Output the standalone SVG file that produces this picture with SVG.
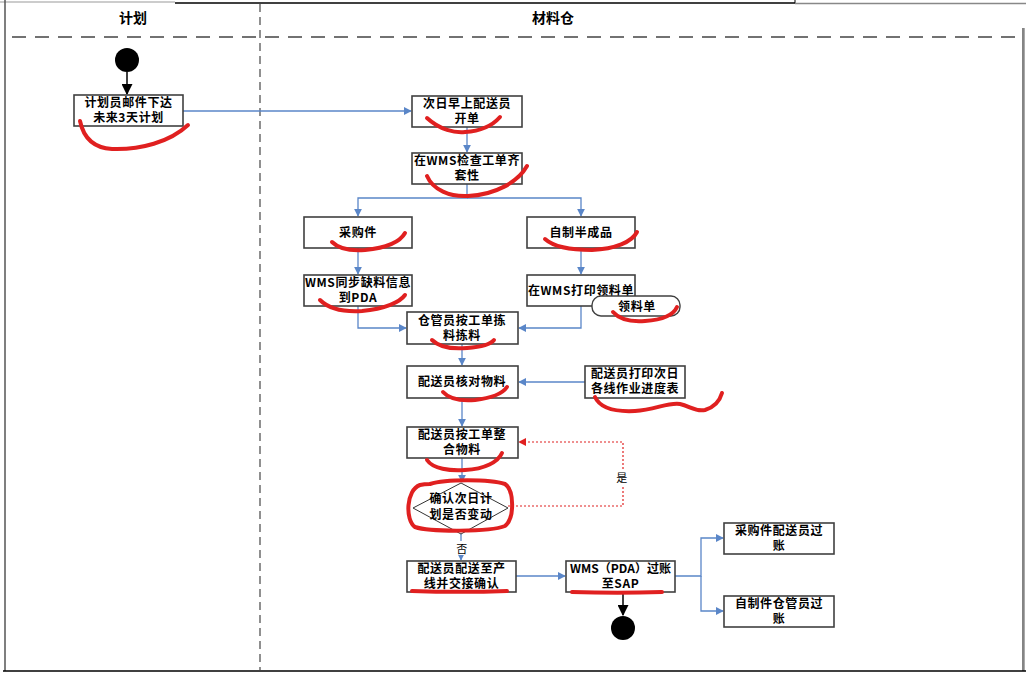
<svg xmlns="http://www.w3.org/2000/svg" width="1026" height="673" viewBox="0 0 1026 673">
<style>
.box{fill:#fff;stroke:#404040;stroke-width:1.6}
.t{font-family:"Noto Sans CJK SC","Liberation Sans",sans-serif;font-size:12px;font-weight:bold;fill:#000;text-anchor:middle;letter-spacing:0.6px}
.h{font-family:"Noto Sans CJK SC","Liberation Sans",sans-serif;font-size:14px;font-weight:bold;fill:#000;text-anchor:middle}
.c{fill:none;stroke:#5a86c8;stroke-width:1.3}
.r{fill:none;stroke:#e02020;stroke-width:4;stroke-linecap:round;stroke-linejoin:round}
.lane{stroke:#444;stroke-width:1.4;stroke-dasharray:14 9;fill:none}
</style>
<defs>
<marker id="ab" viewBox="0 0 10 10" refX="9" refY="5" markerWidth="8" markerHeight="8" markerUnits="userSpaceOnUse" orient="auto"><path d="M0,0 L10,5 L0,10 z" fill="#5a86c8"/></marker>
<marker id="ak" viewBox="0 0 10 10" refX="9" refY="5" markerWidth="11" markerHeight="11" markerUnits="userSpaceOnUse" orient="auto"><path d="M0,0 L10,5 L0,10 z" fill="#000"/></marker>
<marker id="ar" viewBox="0 0 10 10" refX="9" refY="5" markerWidth="8" markerHeight="8" markerUnits="userSpaceOnUse" orient="auto"><path d="M0,0 L10,5 L0,10 z" fill="#e02020"/></marker>
</defs>
<rect width="1026" height="673" fill="#fff"/>
<g id="frame">
<line x1="0" y1="2" x2="175" y2="2" stroke="#999" stroke-width="1"/>
<line x1="175" y1="3" x2="795" y2="3" stroke="#000" stroke-width="1.5"/>
<line x1="795" y1="0" x2="795" y2="3" stroke="#000" stroke-width="1"/>
<line x1="795" y1="3.5" x2="1026" y2="3.5" stroke="#888" stroke-width="1.5"/>
<line x1="5" y1="0" x2="5" y2="671" stroke="#555" stroke-width="1.5"/>
<line x1="1023" y1="28" x2="1023" y2="671" stroke="#333" stroke-width="1.2"/>
<line x1="1024.5" y1="28" x2="1024.5" y2="671" stroke="#aaa" stroke-width="1"/>
<line x1="3" y1="671" x2="1026" y2="671" stroke="#000" stroke-width="1.5"/>
<line class="lane" x1="12" y1="37" x2="1022" y2="37"/>
<line x1="260" y1="4" x2="260" y2="670" stroke="#555" stroke-width="1.3" stroke-dasharray="8 5"/>
<text class="h" x="133" y="23">计划</text>
<text class="h" x="553" y="23">材料仓</text>
</g>
<g id="connectors">
<line x1="127" y1="72" x2="127" y2="94" stroke="#000" stroke-width="1.5" marker-end="url(#ak)"/>
<polyline class="c" points="183,111 411,111" marker-end="url(#ab)"/>
<polyline class="c" points="467,127 467,152" marker-end="url(#ab)"/>
<polyline class="c" points="467,184 467,198 358,198 358,216" marker-end="url(#ab)"/>
<polyline class="c" points="467,198 581,198 581,216" marker-end="url(#ab)"/>
<polyline class="c" points="358,248 358,274" marker-end="url(#ab)"/>
<polyline class="c" points="581,248 581,274" marker-end="url(#ab)"/>
<polyline class="c" points="358,306 358,328 406,328" marker-end="url(#ab)"/>
<polyline class="c" points="581,306 581,328 519,328" marker-end="url(#ab)"/>
<polyline class="c" points="462,344 462,365" marker-end="url(#ab)"/>
<polyline class="c" points="585,382 519,382" marker-end="url(#ab)"/>
<polyline class="c" points="462,398 462,426" marker-end="url(#ab)"/>
<polyline class="c" points="462,458 462,482" marker-end="url(#ab)"/>
<polyline points="508,506 623,506 623,442 519,442" fill="none" stroke="#e02020" stroke-width="1.2" stroke-dasharray="2 2" marker-end="url(#ar)"/>
<rect x="615" y="470" width="14" height="15" fill="#fff"/>
<text class="t" x="622" y="482" style="font-size:11px;font-weight:normal">是</text>
<polyline class="c" points="461,534 461,560" marker-end="url(#ab)"/>
<rect x="454" y="541" width="15" height="14" fill="#fff"/>
<text class="t" x="462" y="553" style="font-size:11px;font-weight:normal">否</text>
<polyline class="c" points="516,576 565,576" marker-end="url(#ab)"/>
<line x1="623" y1="592" x2="623" y2="615" stroke="#000" stroke-width="1.5" marker-end="url(#ak)"/>
<polyline class="c" points="675,576 701,576 701,538 723,538" marker-end="url(#ab)"/>
<polyline class="c" points="701,576 701,611 723,611" marker-end="url(#ab)"/>
</g>
<g id="start"><circle cx="127" cy="60" r="12" fill="#000"/></g>
<g id="n1"><rect class="box" x="74" y="95" width="109" height="31"/><text class="t" x="128.5" y="107">计划员邮件下达</text><text class="t" x="128.5" y="122">未来3天计划</text></g>
<g id="n2"><rect class="box" x="412" y="96" width="110" height="31"/><text class="t" x="467" y="108">次日早上配送员</text><text class="t" x="467" y="123">开单</text></g>
<g id="n3"><rect class="box" x="412" y="153" width="110" height="31"/><text class="t" x="467" y="165">在WMS检查工单齐</text><text class="t" x="467" y="180">套性</text></g>
<g id="n4"><rect class="box" x="304" y="217" width="108" height="31"/><text class="t" x="358" y="237">采购件</text></g>
<g id="n5"><rect class="box" x="527" y="217" width="108" height="31"/><text class="t" x="581" y="237">自制半成品</text></g>
<g id="n6"><rect class="box" x="304" y="275" width="108" height="31"/><text class="t" x="358" y="287">WMS同步缺料信息</text><text class="t" x="358" y="302">到PDA</text></g>
<g id="n7"><rect class="box" x="527" y="275" width="108" height="31"/><text class="t" x="581" y="295">在WMS打印领料单</text></g>
<g id="n8"><rect x="592" y="296" width="88" height="20" rx="9" fill="#fff" stroke="#404040" stroke-width="1.4"/><text class="t" x="637" y="311">领料单</text></g>
<g id="n9"><rect class="box" x="407" y="312" width="111" height="32"/><text class="t" x="462" y="325">仓管员按工单拣</text><text class="t" x="462" y="340">料拣料</text></g>
<g id="n10"><rect class="box" x="407" y="366" width="111" height="32"/><text class="t" x="462" y="386">配送员核对物料</text></g>
<g id="n11"><rect class="box" x="585" y="366" width="100" height="32"/><text class="t" x="635" y="378">配送员打印次日</text><text class="t" x="635" y="393">各线作业进度表</text></g>
<g id="n12"><rect class="box" x="407" y="427" width="111" height="31"/><text class="t" x="462" y="439">配送员按工单整</text><text class="t" x="462" y="454">合物料</text></g>
<g id="n13"><polygon points="461,483 508,508 461,534 413,508" fill="#fff" stroke="#333" stroke-width="1"/><text class="t" x="461" y="503">确认次日计</text><text class="t" x="461" y="519">划是否变动</text></g>
<g id="n14"><rect class="box" x="407" y="561" width="109" height="31"/><text class="t" x="461.5" y="573">配送员配送至产</text><text class="t" x="461.5" y="588">线并交接确认</text></g>
<g id="n15"><rect class="box" x="566" y="561" width="109" height="31"/><text class="t" x="620.5" y="573" style="letter-spacing:0">WMS（PDA）过账</text><text class="t" x="620.5" y="588">至SAP</text></g>
<g id="end"><circle cx="623" cy="628" r="12" fill="#000"/></g>
<g id="n16"><rect class="box" x="724" y="523" width="110" height="31"/><text class="t" x="779" y="535">采购件配送员过</text><text class="t" x="779" y="550">账</text></g>
<g id="n17"><rect class="box" x="724" y="596" width="110" height="31"/><text class="t" x="779" y="608">自制件仓管员过</text><text class="t" x="779" y="623">账</text></g>
<g id="scribbles">
<path class="r" d="M80,121 C84,140 95,148 112,149 C140,150 170,142 188,125"/>
<path class="r" d="M427,118 C440,130 455,133 465,132 C482,131 493,125 500,117"/>
<path class="r" d="M427,176 C433,190 450,197 468,196 C495,195 518,182 527,166"/>
<path class="r" d="M332,242 C340,250 352,251 365,250 C385,248 400,242 405,233"/>
<path class="r" d="M545,239 C555,248 575,250 592,250 C615,249 632,242 637,232"/>
<path class="r" d="M320,300 C330,310 345,312 362,311 C385,309 400,302 405,295"/>
<path class="r" d="M613,312 C620,320 632,322 645,321 C660,320 673,316 677,307"/>
<path class="r" d="M432,340 C440,348 455,349 467,348 C480,347 490,345 494,340"/>
<path class="r" d="M443,392 C450,400 462,401 475,400 C492,398 503,393 507,387"/>
<path class="r" d="M595,397 C600,408 615,412 635,411 C655,410 668,402 680,404 C690,406 695,412 705,410 C715,407 720,400 722,393"/>
<path class="r" d="M427,460 C433,469 450,471 465,470 C485,469 498,462 502,453"/>
<path class="r" d="M430,484 C445,479 490,479 505,484 C514,490 515,518 505,526 C490,532 430,532 415,527 C405,520 406,490 420,485 C424,484 428,484 430,484"/>
<path class="r" d="M412,591 C440,592 480,592 507,591"/>
<path class="r" d="M572,592 C600,593 635,593 662,592" stroke-width="4.5"/>
</g>
</svg>
